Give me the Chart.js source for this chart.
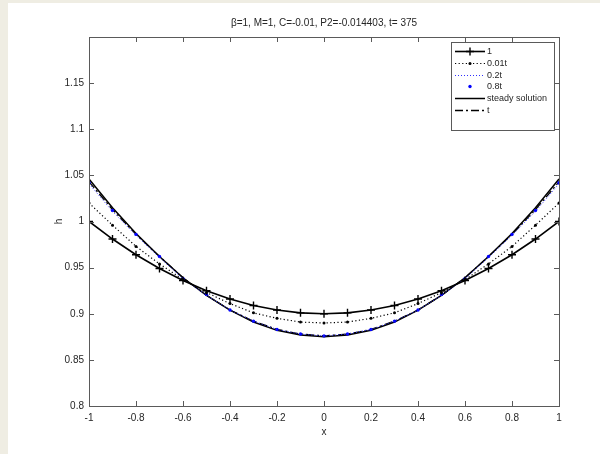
<!DOCTYPE html>
<html>
<head>
<meta charset="utf-8">
<script src="https://cdn.jsdelivr.net/npm/chart.js@4.4.1/dist/chart.umd.min.js"></script>
<style>
  html, body { margin: 0; padding: 0; background: #ffffff; }
  #wrap { width: 600px; height: 454px; }
</style>
</head>
<body>
<div id="wrap"><canvas id="c" width="600" height="454"></canvas></div>
<script>
// ---- data ----
const titleText = "β=1, M=1, C=-0.01, P2=-0.014403, t= 375";
const xLabel = "x";
const yLabel = "h";
const xTicks = [-1, -0.8, -0.6, -0.4, -0.2, 0, 0.2, 0.4, 0.6, 0.8, 1];
const yTicks = [0.8, 0.85, 0.9, 0.95, 1, 1.05, 1.1, 1.15];
const xs = [-1, -0.9, -0.8, -0.7, -0.6, -0.5, -0.4, -0.3, -0.2, -0.1, 0,
            0.1, 0.2, 0.3, 0.4, 0.5, 0.6, 0.7, 0.8, 0.9, 1];
const seriesNames = ["1", "0.01t", "0.2t", "0.8t", "steady solution", "t"];
const h_1 = [1.000, 0.981, 0.964, 0.949, 0.936, 0.925, 0.916, 0.909, 0.904, 0.901, 0.900,
             0.901, 0.904, 0.909, 0.916, 0.925, 0.936, 0.949, 0.964, 0.981, 1.000];
const h_001t = [1.020, 0.996, 0.973, 0.954, 0.937, 0.923, 0.911, 0.901, 0.895, 0.891, 0.890,
                0.891, 0.895, 0.901, 0.911, 0.923, 0.937, 0.954, 0.973, 0.996, 1.020];
const h_02t = [1.041, 1.011, 0.985, 0.961, 0.938, 0.920, 0.904, 0.892, 0.883, 0.878, 0.876,
               0.878, 0.883, 0.892, 0.904, 0.920, 0.938, 0.961, 0.985, 1.011, 1.041];
const h_08t = [1.042, 1.012, 0.986, 0.962, 0.938, 0.921, 0.904, 0.892, 0.883, 0.878, 0.876,
               0.878, 0.883, 0.892, 0.904, 0.921, 0.938, 0.962, 0.986, 1.012, 1.042];
const h_steady = [1.046, 1.015, 0.987, 0.962, 0.939, 0.920, 0.904, 0.891, 0.882, 0.877, 0.875,
                  0.877, 0.882, 0.891, 0.904, 0.920, 0.939, 0.962, 0.987, 1.015, 1.046];
const h_t = [1.043, 1.013, 0.986, 0.962, 0.939, 0.920, 0.904, 0.892, 0.883, 0.878, 0.876,
             0.878, 0.883, 0.892, 0.904, 0.920, 0.939, 0.962, 0.986, 1.013, 1.043];

// ---- build chart ----
const pts = arr => xs.map((x, i) => ({ x: x, y: arr[i] }));
const FONT = "'Liberation Sans', Arial, Helvetica, sans-serif";
const TXT = '#262626';
const AX = '#5a5a5a';

const datasets = [
  { label: seriesNames[0], data: pts(h_1), borderColor: '#000', backgroundColor: '#000',
    borderWidth: 1.6, pointStyle: 'cross', pointRadius: 4, pointBorderWidth: 1.4, showLine: true },
  { label: seriesNames[1], data: pts(h_001t), borderColor: '#000', backgroundColor: '#000',
    borderWidth: 1.2, borderDash: [1.2, 2.4], pointStyle: 'circle', pointRadius: 1.5, pointBorderWidth: 0, showLine: true },
  { label: seriesNames[2], data: pts(h_02t), borderColor: '#2f2fff', backgroundColor: '#2f2fff',
    borderWidth: 1, borderDash: [1, 2], pointRadius: 0, showLine: true },
  { label: seriesNames[3], data: pts(h_08t), borderColor: '#0000ff', backgroundColor: '#0000ff',
    borderWidth: 0, pointStyle: 'circle', pointRadius: 1.7, pointBorderWidth: 0, showLine: false },
  { label: seriesNames[4], data: pts(h_steady), borderColor: '#000', backgroundColor: '#000',
    borderWidth: 1.5, pointRadius: 0, showLine: true },
  { label: seriesNames[5], data: pts(h_t), borderColor: '#000', backgroundColor: '#000',
    borderWidth: 1.3, borderDash: [8, 3, 2, 3], pointRadius: 0, showLine: true }
];

const framePlugin = {
  id: 'frame',
  beforeDraw(chart) {
    const ctx = chart.ctx;
    ctx.save();
    ctx.fillStyle = '#ffffff';
    ctx.fillRect(0, 0, chart.width, chart.height);
    ctx.fillStyle = '#efede3';
    ctx.fillRect(0, 0, 8, chart.height);
    ctx.fillRect(0, 0, chart.width, 3);
    ctx.restore();
  },
  afterDraw(chart) {
    const ctx = chart.ctx;
    const a = chart.chartArea;
    const xs_ = chart.scales.x, ys_ = chart.scales.y;
    ctx.save();
    // title centred over the axes
    ctx.fillStyle = TXT;
    ctx.font = '10px ' + FONT;
    ctx.textAlign = 'center';
    ctx.textBaseline = 'middle';
    ctx.fillText(titleText, (a.left + a.right) / 2, 23);
    // box
    ctx.strokeStyle = AX;
    ctx.lineWidth = 1;
    ctx.strokeRect(Math.round(a.left) + 0.5, Math.round(a.top) + 0.5,
                   Math.round(a.right - a.left), Math.round(a.bottom - a.top));
    // inward ticks on all four sides
    const TL = 5;
    ctx.beginPath();
    xTicks.forEach(v => {
      const px = Math.round(xs_.getPixelForValue(v)) + 0.5;
      ctx.moveTo(px, a.bottom); ctx.lineTo(px, a.bottom - TL);
      ctx.moveTo(px, a.top); ctx.lineTo(px, a.top + TL);
    });
    yTicks.forEach(v => {
      const py = Math.round(ys_.getPixelForValue(v)) + 0.5;
      ctx.moveTo(a.left, py); ctx.lineTo(a.left + TL, py);
      ctx.moveTo(a.right, py); ctx.lineTo(a.right - TL, py);
    });
    ctx.stroke();

    // legend box
    const L = { x: 451, y: 42, w: 103, h: 88 };
    ctx.fillStyle = '#ffffff';
    ctx.fillRect(L.x, L.y, L.w, L.h);
    ctx.strokeStyle = AX;
    ctx.strokeRect(L.x + 0.5, L.y + 0.5, L.w, L.h);
    const x0 = 455, x1 = 485, xm = 470, tx = 487;
    chart.data.datasets.forEach((ds, i) => {
      const y = Math.round(L.y + 9 + i * 11.8) + 0.5;
      ctx.save();
      if (ds.showLine && ds.borderWidth > 0) {
        ctx.strokeStyle = ds.borderColor;
        ctx.lineWidth = ds.borderWidth;
        ctx.setLineDash(ds.borderDash || []);
        ctx.beginPath();
        ctx.moveTo(x0, y); ctx.lineTo(x1, y);
        ctx.stroke();
      }
      ctx.setLineDash([]);
      if (ds.pointRadius > 0) {
        if (ds.pointStyle === 'cross') {
          ctx.strokeStyle = ds.borderColor;
          ctx.lineWidth = ds.pointBorderWidth;
          ctx.beginPath();
          ctx.moveTo(xm - ds.pointRadius, y); ctx.lineTo(xm + ds.pointRadius, y);
          ctx.moveTo(xm, y - ds.pointRadius); ctx.lineTo(xm, y + ds.pointRadius);
          ctx.stroke();
        } else {
          ctx.fillStyle = ds.backgroundColor;
          ctx.beginPath();
          ctx.arc(xm, y, ds.pointRadius, 0, Math.PI * 2);
          ctx.fill();
        }
      }
      ctx.restore();
      ctx.fillStyle = TXT;
      ctx.font = '9px ' + FONT;
      ctx.textAlign = 'left';
      ctx.textBaseline = 'middle';
      ctx.fillText(ds.label, tx, y);
    });
    ctx.restore();
  }
};

const fmt = v => String(Math.round(v * 100) / 100);

new Chart(document.getElementById('c'), {
  type: 'scatter',
  data: { datasets: datasets },
  plugins: [framePlugin],
  options: {
    responsive: false,
    animation: false,
    devicePixelRatio: 1,
    layout: { padding: { top: 37, right: 41, left: 0, bottom: 0 } },
    plugins: {
      legend: { display: false },
      title: { display: false },
      tooltip: { enabled: false }
    },
    elements: { line: { tension: 0, fill: false } },
    scales: {
      x: {
        type: 'linear', min: -1, max: 1,
        afterFit(s) { s.height = 48; },
        afterBuildTicks(s) { s.ticks = xTicks.map(v => ({ value: v })); },
        grid: { display: false, drawTicks: false },
        border: { display: false },
        ticks: { padding: 6, maxRotation: 0, autoSkip: false, color: TXT,
                 font: { size: 10, family: FONT }, callback: v => fmt(v) },
        title: { display: true, text: xLabel, color: TXT, font: { size: 10, family: FONT },
                 padding: { top: 0, bottom: 16 } }
      },
      y: {
        type: 'linear', min: 0.8, max: 1.2,
        afterFit(s) { s.width = 89; },
        afterBuildTicks(s) { s.ticks = yTicks.map(v => ({ value: v })); },
        grid: { display: false, drawTicks: false },
        border: { display: false },
        ticks: { padding: 5, autoSkip: false, color: TXT,
                 font: { size: 10, family: FONT }, callback: v => fmt(v) },
        title: { display: true, text: yLabel, color: TXT, font: { size: 10, family: FONT },
                 padding: { top: 53, bottom: 0 } }
      }
    }
  }
});
</script>
</body>
</html>
